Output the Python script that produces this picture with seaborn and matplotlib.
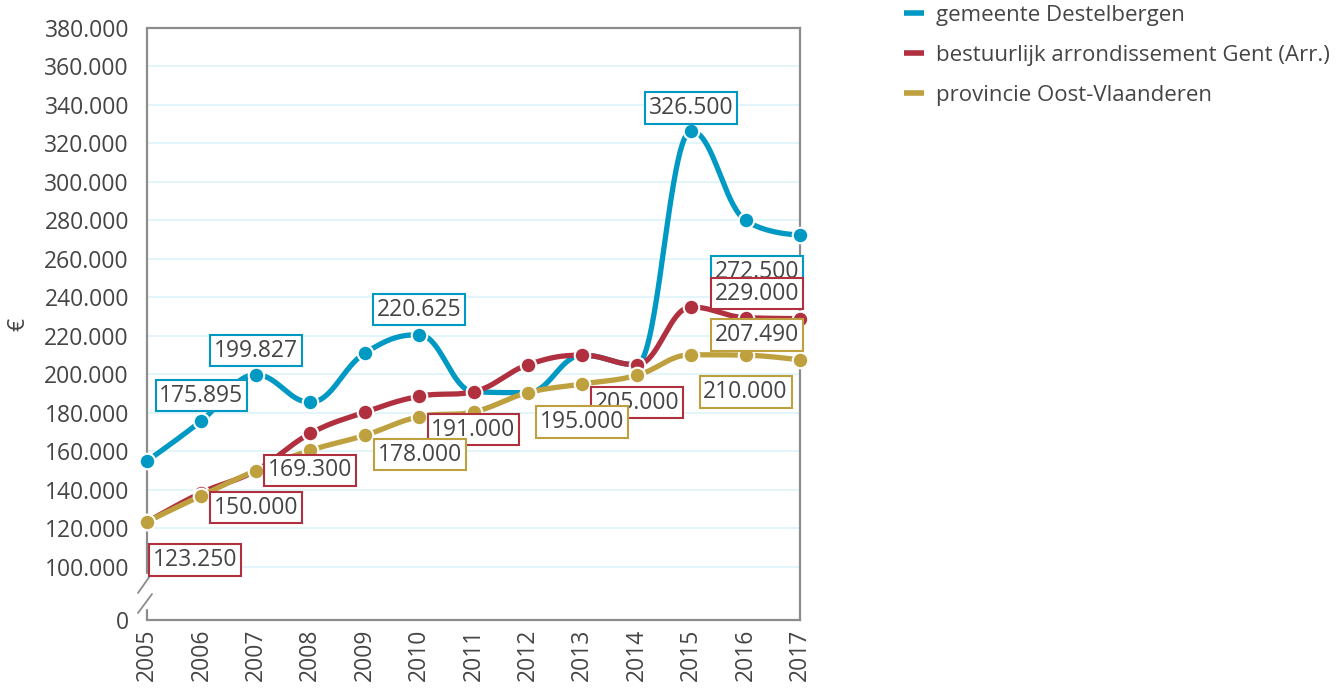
import numpy as np
import pandas as pd
import matplotlib
matplotlib.use("Agg")
import matplotlib.pyplot as plt
from matplotlib.lines import Line2D
import seaborn as sns

# Median sale price of dwellings (EUR)
years = [2005, 2006, 2007, 2008, 2009, 2010, 2011, 2012, 2013, 2014, 2015, 2016, 2017]
destelbergen = [155000, 175895, 199827, 185500, 211000, 220625, 191000, 190500, 210000, 205000, 326500, 280000, 272500]
arrondissement = [123250, 138500, 150000, 169300, 180300, 188600, 191000, 205000, 210000, 205000, 235000, 229500, 229000]
provincie = [123500, 137000, 150000, 160500, 168300, 178000, 180500, 190500, 195000, 199500, 210200, 210000, 207490]

series_names = [
    "gemeente Destelbergen",
    "bestuurlijk arrondissement Gent (Arr.)",
    "provincie Oost-Vlaanderen",
]
labelled_years = {
    "gemeente Destelbergen": [2006, 2007, 2010, 2015, 2017],
    "bestuurlijk arrondissement Gent (Arr.)": [2005, 2007, 2008, 2011, 2014, 2017],
    "provincie Oost-Vlaanderen": [2010, 2013, 2016, 2017],
}
y_ticks = [0] + list(range(100000, 380001, 20000))

# label placement (offset in pixels from the point)
label_offsets = {
    "gemeente Destelbergen": {2006: (0, 25), 2007: (0, 24), 2010: (0, 25), 2015: (0, 23), 2017: (-43, -37)},
    "bestuurlijk arrondissement Gent (Arr.)": {2005: (48, -38), 2007: (0, -37), 2008: (0, -37),
                                               2011: (0, -38), 2014: (0, -38), 2017: (-43, 25)},
    "provincie Oost-Vlaanderen": {2010: (1, -38), 2013: (0, -38), 2016: (0, -37), 2017: (-43, 25)},
}
colors = {
    "gemeente Destelbergen": "#0099C4",
    "bestuurlijk arrondissement Gent (Arr.)": "#B0303F",
    "provincie Oost-Vlaanderen": "#BFA03E",
}

df = pd.DataFrame({
    "jaar": years * 3,
    "prijs": destelbergen + arrondissement + provincie,
    "reeks": [n for n in series_names for _ in years],
})

sns.set_theme(style="white")
plt.rcParams["font.family"] = ["Open Sans", "DejaVu Sans"]
TXT = "#454545"
FS = 16.5

fig = plt.figure(figsize=(13.44, 6.91), dpi=100)
ax = fig.add_axes([147 / 1344, 1 - 620 / 691, (800 - 147) / 1344, (620 - 28) / 691])

# broken axis: 0..100000 compressed below the 100.000 line
BREAK = 100000.0
K = 0.2763


def fwd(v):
    v = np.asarray(v, dtype=float)
    return np.where(v >= BREAK, v, BREAK - (BREAK - v) * K)


def inv(u):
    u = np.asarray(u, dtype=float)
    return np.where(u >= BREAK, u, BREAK - (BREAK - u) / K)


ax.set_yscale("function", functions=(fwd, inv))


def spline(xs, ys, n=40, smoothing=1.5):
    """Smooth curve through the points with control points kept level at local extremes."""
    x = np.asarray(xs, float)
    y = np.asarray(ys, float)
    m = len(x)
    lcx, lcy = x.copy(), y.copy()
    rcx, rcy = x.copy(), y.copy()
    d = smoothing + 1
    for i in range(1, m - 1):
        lx = (smoothing * x[i] + x[i - 1]) / d
        ly = (smoothing * y[i] + y[i - 1]) / d
        rx = (smoothing * x[i] + x[i + 1]) / d
        ry = (smoothing * y[i] + y[i + 1]) / d
        if rx != lx:
            corr = (ry - ly) * (rx - x[i]) / (rx - lx) + y[i] - ry
            ly += corr
            ry += corr
        if ly > y[i - 1] and ly > y[i]:
            ly = max(y[i - 1], y[i]); ry = 2 * y[i] - ly
        elif ly < y[i - 1] and ly < y[i]:
            ly = min(y[i - 1], y[i]); ry = 2 * y[i] - ly
        if ry > y[i + 1] and ry > y[i]:
            ry = max(y[i + 1], y[i]); ly = 2 * y[i] - ry
        elif ry < y[i + 1] and ry < y[i]:
            ry = min(y[i + 1], y[i]); ly = 2 * y[i] - ry
        lcx[i], lcy[i], rcx[i], rcy[i] = lx, ly, rx, ry
    t = np.linspace(0, 1, n)
    a, b, c, e = (1 - t) ** 3, 3 * (1 - t) ** 2 * t, 3 * (1 - t) * t ** 2, t ** 3
    out_x, out_y = [], []
    for i in range(m - 1):
        out_x.extend(a * x[i] + b * rcx[i] + c * lcx[i + 1] + e * x[i + 1])
        out_y.extend(a * y[i] + b * rcy[i] + c * lcy[i + 1] + e * y[i + 1])
    return out_x, out_y


for k, name in enumerate(series_names):
    sub = df[df["reeks"] == name]
    sx, sy = spline(sub["jaar"], sub["prijs"])
    ax.plot(sx, sy, color=colors[name], lw=3.8, solid_capstyle="round", zorder=3 + 2 * k, clip_on=False)
    sns.scatterplot(data=sub, x="jaar", y="prijs", color=colors[name], s=125,
                    edgecolor="white", linewidth=1.5, zorder=4 + 2 * k, clip_on=False,
                    legend=False, ax=ax)


def fmt(v):
    return f"{v:,.0f}".replace(",", ".")


for k, name in enumerate(series_names):
    sub = df[df["reeks"] == name].set_index("jaar")
    for yr in labelled_years[name]:
        val = sub.loc[yr, "prijs"]
        dx, dy = label_offsets[name][yr]
        ax.annotate(fmt(val), xy=(yr, val), xytext=(dx, dy), textcoords="offset pixels",
                    ha="center", va="center", fontsize=FS, color=TXT, zorder=20 + k,
                    annotation_clip=False,
                    bbox=dict(boxstyle="square,pad=0.16", fc="white", ec=colors[name], lw=1.5))

ax.set_xlim(2005, 2017)
ax.set_ylim(0, 380000)
ax.set_xticks(years)
ax.set_xticklabels([str(y) for y in years], rotation=90)
ax.set_yticks(y_ticks)
ax.set_yticklabels([fmt(v) for v in y_ticks])
ax.tick_params(axis="both", labelsize=FS, colors=TXT, length=0)
ax.tick_params(axis="y", pad=13)
ax.tick_params(axis="x", pad=6)
ax.set_xlabel("")
ax.set_ylabel("€", fontsize=FS, color=TXT, rotation=90, va="center", ha="center")
ax.yaxis.set_label_coords(-0.1975, 0.5)

ax.grid(axis="y", color="#DDF3FA", lw=1.2)
ax.grid(axis="x", visible=False)
ax.set_axisbelow(True)

SPINE = "#8C8C8C"
for s in ["top", "right", "bottom", "left"]:
    ax.spines[s].set_color(SPINE)
    ax.spines[s].set_linewidth(1.6)
ax.spines["left"].set_visible(False)

# left axis line with a break between 0 and 100.000
tr = ax.transAxes
ax.plot([0, 0], [0.0794, 1], transform=tr, color=SPINE, lw=1.6, clip_on=False, zorder=1)
ax.plot([0, 0], [0, 0.0169], transform=tr, color=SPINE, lw=1.6, clip_on=False, zorder=1)
ax.plot([-0.0138, 0.0077], [0.0456, 0.0794], transform=tr, color=SPINE, lw=1.3, clip_on=False)
ax.plot([-0.0138, 0.0077], [0.0118, 0.0439], transform=tr, color=SPINE, lw=1.3, clip_on=False)

LFS = 16
handles = [Line2D([0], [0], color=colors[n], lw=4, solid_capstyle="butt") for n in series_names]
fig.legend(handles, series_names, loc="upper left", bbox_to_anchor=(895 / 1344, 1 + 4 / 691),
           frameon=False, fontsize=LFS, labelcolor=TXT, handlelength=0.9, handletextpad=0.54,
           labelspacing=0.85, borderaxespad=0)

fig.savefig("out.png", dpi=100, facecolor="white")
